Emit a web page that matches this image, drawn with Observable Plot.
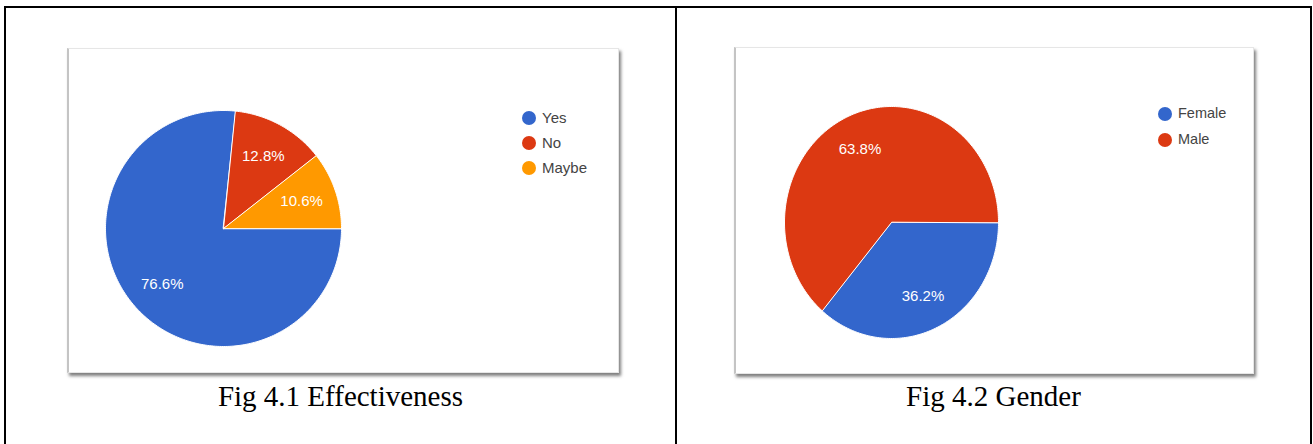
<!DOCTYPE html>
<html>
<head>
<meta charset="utf-8">
<script src="https://cdn.jsdelivr.net/npm/d3@7"></script>
<script src="https://cdn.jsdelivr.net/npm/@observablehq/plot@0.6"></script>
<style>
  html, body { margin: 0; padding: 0; background: #fff; width: 1313px; height: 444px; overflow: hidden; }
  .frame { position: absolute; left: 4px; top: 6px; width: 1304px; height: 460px; border: 2px solid #000; border-bottom: none; }
  .divider { position: absolute; left: 675px; top: 6px; width: 2px; height: 460px; background: #000; }
  .card { position: absolute; background: #fff; border: 1px solid #e6e6e6; border-left: 2px solid #c4c4c4;
          box-shadow: 2px 3px 3px rgba(0,0,0,0.5); }
  .card svg { position: absolute; left: 0; top: 0; }
  .legend { position: absolute; font-family: "Liberation Sans", Arial, sans-serif; color: #444; }
  .legend .row { position: absolute; left: 0; white-space: nowrap; }
  .legend .dot { position: absolute; border-radius: 50%; }
  .legend .lab { position: absolute; }
  .caption { position: absolute; font-family: "Liberation Serif", "Times New Roman", serif; font-size: 29px;
             line-height: 29px; color: #000; text-align: center; white-space: nowrap; }
</style>
</head>
<body>
<div class="frame"></div>
<div class="divider"></div>
<div id="card1" class="card" style="left:67px; top:48px; width:549px; height:323px;"></div>
<div id="card2" class="card" style="left:734px; top:47px; width:517px; height:325px;"></div>
<div class="caption" style="left:6px; width:669px; top:382px;">Fig 4.1 Effectiveness</div>
<div class="caption" style="left:677px; width:633px; top:382px;">Fig 4.2 Gender</div>
<script>
// ---- Data ----
const effCategories = ["Yes", "No", "Maybe"];
const effValues = [76.6, 12.8, 10.6];
const effColors = ["#3366cc", "#dc3912", "#ff9900"];

const genCategories = ["Female", "Male"];
const genValues = [36.2, 63.8];
const genColors = ["#3366cc", "#dc3912"];

// ---- Helpers ----
function pieRows(categories, values) {
  const pie = d3.pie().sort(null).startAngle(Math.PI / 2).endAngle(Math.PI / 2 + 2 * Math.PI);
  const arcs = pie(values);
  const outline = [];
  const labels = [];
  arcs.forEach((a, i) => {
    const cat = categories[i];
    const n = Math.max(2, Math.ceil((a.endAngle - a.startAngle) / (Math.PI / 180)));
    outline.push({cat, x: 0, y: 0});
    for (let k = 0; k <= n; k++) {
      const t = a.startAngle + (a.endAngle - a.startAngle) * k / n;
      outline.push({cat, x: Math.sin(t), y: Math.cos(t)});
    }
    const m = (a.startAngle + a.endAngle) / 2;
    labels.push({cat, x: 0.7 * Math.sin(m), y: 0.7 * Math.cos(m), text: values[i].toFixed(1) + "%"});
  });
  return {outline, labels};
}

function drawPie(el, categories, values, colors, w, h, xr, yr) {
  const {outline, labels} = pieRows(categories, values);
  const chart = Plot.plot({
    width: w, height: h,
    margin: 0,
    style: {background: "transparent", overflow: "visible"},
    x: {domain: [-1, 1], range: xr, axis: null},
    y: {domain: [-1, 1], range: yr, axis: null},
    color: {domain: categories, range: colors},
    marks: [
      Plot.line(outline, {x: "x", y: "y", z: "cat", fill: "cat", stroke: "white", strokeWidth: 1, curve: "linear-closed"}),
      Plot.text(labels, {x: "x", y: "y", text: "text", fill: "white", fontSize: 15,
                         fontFamily: "Liberation Sans, Arial, sans-serif"})
    ]
  });
  el.appendChild(chart);
}

function drawLegend(el, categories, colors, left, top, step, fontSize) {
  const lg = document.createElement("div");
  lg.className = "legend";
  lg.style.left = left + "px";
  lg.style.top = top + "px";
  lg.style.fontSize = fontSize + "px";
  categories.forEach((c, i) => {
    const row = document.createElement("div");
    row.className = "row";
    row.style.top = (i * step) + "px";
    const dot = document.createElement("div");
    dot.className = "dot";
    dot.style.width = "14px"; dot.style.height = "14px";
    dot.style.left = "-7px"; dot.style.top = "-7px";
    dot.style.background = colors[i];
    const lab = document.createElement("div");
    lab.className = "lab";
    lab.style.left = "13px";
    lab.style.top = (-fontSize * 0.6) + "px";
    lab.style.lineHeight = (fontSize * 1.2) + "px";
    lab.textContent = c;
    row.appendChild(dot); row.appendChild(lab);
    lg.appendChild(row);
  });
  el.appendChild(lg);
}

// Left: Effectiveness
const c1 = document.getElementById("card1");
drawPie(c1, effCategories, effValues, effColors, 547, 323, [36, 272], [297, 61]);
drawLegend(c1, effCategories, effColors, 460, 69, 25, 15);

// Right: Gender
const c2 = document.getElementById("card2");
drawPie(c2, genCategories, genValues, genColors, 515, 325, [48, 262], [290, 58]);
drawLegend(c2, genCategories, genColors, 429, 66, 26, 14.5);
</script>
</body>
</html>
